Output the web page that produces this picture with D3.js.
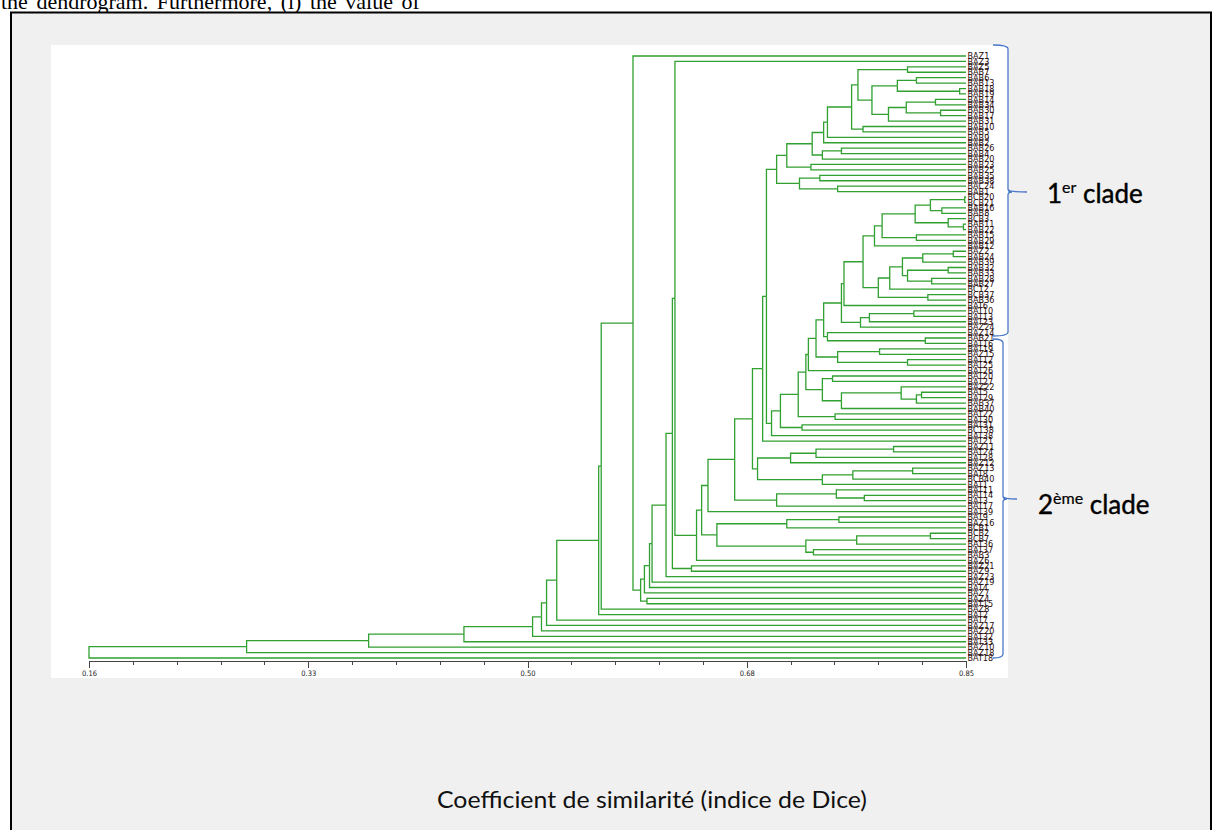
<!DOCTYPE html>
<html lang="fr">
<head>
<meta charset="utf-8">
<title>Dendrogramme (indice de Dice)</title>
<script src="https://d3js.org/d3.v7.min.js"></script>
<style>
  body { margin: 0; background: #fff; }
  .axis path, .axis line { fill: none; stroke: #444; shape-rendering: crispEdges; }
  .axis text { font-family: "Liberation Sans Narrow", "DejaVu Sans Condensed", sans-serif; font-size: 7.5px; fill: #222; }
  .link { fill: none; stroke: #30a030; stroke-width: 1.3; }
  .leaf { font-family: "Liberation Sans Narrow", "DejaVu Sans Condensed", sans-serif; font-size: 9px; fill: #2a0c0c; }
  .brace { fill: none; stroke: #4a78c8; stroke-width: 1.3; }
  .clade { font-family: Lato, "Open Sans", sans-serif; font-size: 26px; fill: #000; stroke: #000; stroke-width: 0.4; }
</style>
</head>
<body>
<script>
var w = 1213, h = 830;

// leaf names, top to bottom
var leafNames = ["BAZ1","BAZ3","BAZ5","BAB7","BAB6","BAB13","BAB18","BAB19","BAB14","BAB34",
  "BAB30","BAB17","BAB31","BAB10","BAB5","BAB9","BAB2","BAB26","BAB4","BAB20",
  "BAB23","BAB25","BAB35","BAB38","BAC24","BAB1","BCB20","BCB21","BAB16","BAB8",
  "BCB3","BAB11","BAB22","BAB15","BAB29","BAB12","BAZ2","BAB24","BAB39","BAB32",
  "BAB33","BAB28","BAB27","BC12","BCB37","BAB36","BAT6","BAT10","BAT13","BAT23",
  "BAZ24","BAZ14","BAB21","BAT16","BAT19","BAZ15","BAT12","BAT25","BAT26","BAT20",
  "BAT27","BAZ22","BAT5","BAT29","BAB37","BAB40","BAT22","BAT30","BAT31","BCT38",
  "BAT38","BAT21","BAZ11","BAT24","BAT28","BAZ12","BAZ13","BAT8","BCB40","BAT1",
  "BAT11","BAT14","BAT3","BAT17","BAT39","BAT9","BAZ16","BCB1","BCB2","BCB7",
  "BAT36","BAT37","BAB3","BAZ6","BAZ21","BAZ9","BAZ23","BAZ19","BAT4","BAZ7",
  "BAZ4","BAT15","BAZ8","BAT2","BAT7","BAZ17","BAZ20","BAT32","BAT33","BAZ10",
  "BAZ18","BAT18"];

// clusters as [similarity, child, child]; a number is a leaf index
var cladeA = [0.701,
  [0.709,
    [0.729,
      [0.738,
        [0.741,
          [0.760,
            [0.765, [0.804, 2, 3],
              [0.776, [0.796, [0.811, 4, 5], [0.845, 6, 7]],
                      [0.789, [0.803, [0.826, 8, 9], [0.830, 10, 11]], 12]]],
            [0.769, 13, 14]],
          15],
        16],
      [0.737, [0.752, 17, 18], 19]],
    [0.728, 20, 21]],
  [0.719, [0.735, 22, 23], [0.749, 24, 25]]];

var cladeB = [0.697,
  [0.704,
    [0.718,
      [0.724,
        [0.726,
          [0.732,
            [0.738,
              [0.752,
                [0.754,
                  [0.769,
                    [0.778,
                      [0.784,
                        [0.810,
                          [0.822, [0.849, 26, 27], [0.831, 28, 29]],
                          [0.836, 30, [0.848, 31, 32]]],
                        [0.811, 33, 34]],
                      35],
                    [0.781,
                      [0.790,
                        [0.800,
                          [0.816, [0.840, 36, 37], 38],
                          [0.804, [0.836, 39, 40], [0.823, 41, 42]]],
                        43],
                      [0.820, 44, 45]]],
                  46],
                [0.767, [0.774, [0.809, 47, 48], 49], 50]],
              [0.741, 51, [0.818, 52, 53]]],
            [0.749, [0.782, 54, 55], [0.804, 56, 57]]],
          58],
        [0.737, [0.745, 59, 60], [0.752, [0.799, 61, [0.811, [0.815, 62, 63], 64]], 65]]],
      [0.747, 66, 67]],
    [0.721, 68, 69]],
  70];

var cladeC = [0.686,
  [0.712, [0.732, [0.793, 72, 73], 74], 75],
  [0.737, [0.761, [0.808, 76, 77], 78], 79]];

var cladeD = [0.701, [0.748, 80, [0.770, 81, 82]], 83];

var cladeE = [0.654,
  [0.709, [0.750, 85, 86], 87],
  [0.724, [0.764, [0.822, 88, 89], 90], [0.730, 91, 92]]];

// levels at which leaves 102..111 join the rest, one by one
var outgroupLevels = [0.563, 0.561, 0.528, 0.520, 0.516, 0.509, 0.455, 0.380, 0.284, 0.160];

var tickValues = [0.16, 0.3325, 0.505, 0.6775, 0.85];
var tickLabels = ["0.16", "0.33", "0.50", "0.68", "0.85"];

// assemble the tree
var core = [0.693, cladeA, cladeB];
core = [0.690, core, 71];
core = [0.682, core, cladeC];
core = [0.668, core, cladeD];
core = [0.647, core, 84];
core = [0.642, core, cladeE];
core = [0.638, core, 93];
core = [0.621, 1, core];
core = [0.619, core, [0.634, 94, 95]];
core = [0.614, core, 96];
core = [0.603, core, 97];
core = [0.601, core, 98];
core = [0.597, core, 99];
core = [0.594, core, [0.599, 100, 101]];
core = [0.588, 0, core];
outgroupLevels.forEach(function(s, i) { core = [s, core, 102 + i]; });

var root = d3.hierarchy(core, function(d) { return Array.isArray(d) ? d.slice(1) : null; });
var leaves = root.leaves();

var xScale = d3.scaleLinear().domain([0.16, 0.85]).range([89, 966]);
var yScale = d3.scalePoint()
  .domain(leaves.map(function(d) { return d.data; }))
  .range([56, 658]);

root.eachAfter(function(n) {
  if (n.children) {
    n.py = d3.mean(n.children, function(c) { return c.py; });
    n.px = xScale(n.data[0]);
  } else {
    n.py = yScale(n.data);
    n.px = xScale(0.85);
  }
});

var svg = d3.select("body").append("svg")
  .attr("width", w)
  .attr("height", h);

// page text cut at the top
svg.append("text")
  .attr("x", 1)
  .attr("y", 9)
  .attr("font-family", "'Liberation Serif', 'Times New Roman', serif")
  .attr("font-size", 22)
  .attr("word-spacing", 3)
  .attr("fill", "#000")
  .text("the dendrogram. Furthermore, (i) the value of");

// frame
svg.append("rect")
  .attr("x", 11).attr("y", 12.5)
  .attr("width", 1200).attr("height", 830)
  .attr("fill", "#f0f0f0")
  .attr("stroke", "#000")
  .attr("stroke-width", 2);

// white plot panel
svg.append("rect")
  .attr("x", 51).attr("y", 45)
  .attr("width", 957).attr("height", 633)
  .attr("fill", "#fff");

// links
var g = svg.append("g");
g.selectAll("path")
  .data(root.descendants().filter(function(d) { return d.parent; }))
  .enter()
  .append("path")
  .attr("class", "link")
  .attr("d", function(d) {
    return "M" + d.parent.px + "," + d.parent.py + "V" + d.py + "H" + d.px;
  });

// leaf names
svg.append("g")
  .selectAll("text")
  .data(leaves)
  .enter()
  .append("text")
  .attr("class", "leaf")
  .attr("x", xScale(0.85) + 1.5)
  .attr("y", function(d) { return d.py + 3.2; })
  .text(function(d) { return leafNames[d.data]; });

// axis: minor then major ticks
var minorTicks = [];
for (var i = 0; i < tickValues.length - 1; i++) {
  var step = (tickValues[i + 1] - tickValues[i]) / 5;
  for (var k = 1; k < 5; k++) minorTicks.push(tickValues[i] + k * step);
}
svg.append("g")
  .attr("class", "axis")
  .attr("transform", "translate(0,661)")
  .call(d3.axisBottom(xScale).tickValues(minorTicks).tickSize(4).tickSizeOuter(0).tickFormat(""));
svg.append("g")
  .attr("class", "axis")
  .attr("transform", "translate(0,661)")
  .call(d3.axisBottom(xScale).tickValues(tickValues).tickSize(7).tickSizeOuter(0).tickPadding(3)
    .tickFormat(function(d, i) { return tickLabels[i]; }));

// clade braces
function brace(x0, x1, y0, y1, ym, tip) {
  return "M" + x0 + "," + y0 + " Q" + x1 + "," + y0 + " " + x1 + "," + (y0 + 4) +
    " V" + (ym - 3) + " Q" + x1 + "," + ym + " " + tip + "," + ym +
    " M" + x1 + "," + (ym - 3) + " Q" + x1 + "," + ym + " " + (x1 + 4) + "," + ym +
    " Q" + x1 + "," + ym + " " + x1 + "," + (ym + 3) +
    " V" + (y1 - 4) + " Q" + x1 + "," + y1 + " " + x0 + "," + y1;
}
svg.append("path").attr("class", "brace").attr("d", brace(993, 1008, 45, 336, 192, 1027));
svg.append("path").attr("class", "brace").attr("d", brace(993, 1003, 339, 658, 499, 1017));

var t1 = svg.append("text").attr("class", "clade").attr("x", 1047).attr("y", 203);
t1.append("tspan").text("1");
t1.append("tspan").attr("font-size", 16).attr("stroke-width", 0.2).attr("dy", -10).text("er");
t1.append("tspan").attr("dy", 10).text(" clade");

var t2 = svg.append("text").attr("class", "clade").attr("x", 1038).attr("y", 514);
t2.append("tspan").text("2");
t2.append("tspan").attr("font-size", 16).attr("stroke-width", 0.2).attr("dy", -10).text("ème");
t2.append("tspan").attr("dy", 10).text(" clade");

// x title
svg.append("text")
  .attr("x", 437)
  .attr("y", 808)
  .attr("font-family", "Lato, 'Open Sans', sans-serif")
  .attr("font-size", 23)
  .attr("fill", "#111")
  .attr("textLength", 430)
  .attr("lengthAdjust", "spacingAndGlyphs")
  .text("Coefficient de similarité (indice de Dice)");
</script>
</body>
</html>
